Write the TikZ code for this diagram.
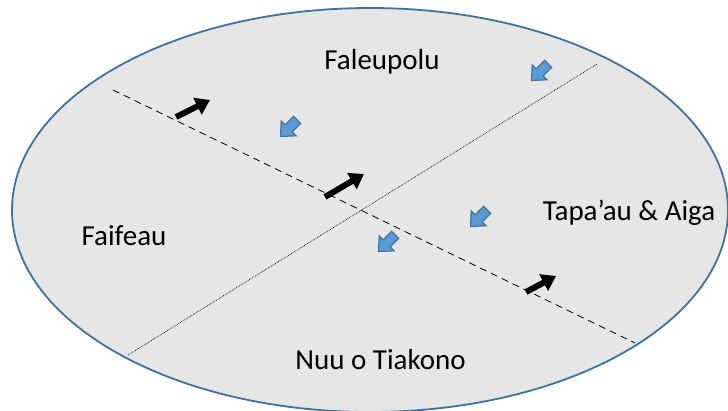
\documentclass[tikz,border=0pt]{standalone}
\usepackage{fontspec}
\setmainfont{Carlito}
\usetikzlibrary{arrows.meta}
\definecolor{rim}{HTML}{41719C}
\definecolor{disk}{HTML}{E6E6E6}
\definecolor{bluefill}{HTML}{5B9BD5}
\definecolor{blueedge}{HTML}{41719C}
\tikzset{
  region/.style={font=\fontsize{29}{34}\selectfont, inner sep=0pt},
  blackarrow/.style={line width=6pt, -{Triangle[length=14pt,width=18pt]}},
  blueshape/.style={draw=blueedge, fill=bluefill, line width=1.2pt, line join=miter},
  dashline/.style={dash pattern=on 7pt off 5pt, line width=0.8pt},
  dotline/.style={dash pattern=on 0.7pt off 1pt, line width=0.7pt},
  pics/bluearrow/.style={code={
    \begin{scope}[x={(-0.7071pt,-0.7071pt)}, y={(-0.7071pt,0.7071pt)}]
      \path[blueshape] (-11.5,-5) -- (0.5,-5) -- (0.5,-10.5) -- (12,0) -- (0.5,10.5) -- (0.5,5) -- (-11.5,5) -- cycle;
    \end{scope}
  }},
}
\begin{document}
\begin{tikzpicture}[x=1pt,y=-1pt]
\useasboundingbox (0,0) rectangle (728,410);
\begin{scope}
\clip (0,0) rectangle (728,410);
\draw[rim, fill=disk, line width=1.8pt] (370,210) ellipse [x radius=358, y radius=202];
\end{scope}
% lines
\coordinate (d1) at (113,90);
\coordinate (d2) at (635,343);
\coordinate (t1) at (128,355);
\coordinate (t2) at (597,64);
\draw[dashline] (d1) -- (d2);
\draw[dotline] (t1) -- (t2);
% labels
\node[region] (fal) at (382,62) {Faleupolu};
\node[region] (fai) at (124,236) {Faifeau};
\node[region] (tap) at (629,213) {Tapa’au \& Aiga};
\node[region] (nuu) at (380.5,360) {Nuu o Tiakono};
% black arrows
\coordinate (a1s) at (176,117); \coordinate (a1e) at (210,100);
\coordinate (a2s) at (325,197); \coordinate (a2e) at (364,174);
\coordinate (a3s) at (526,292); \coordinate (a3e) at (556,276);
\draw[blackarrow] (a1s) -- (a1e);
\draw[blackarrow] (a2s) -- (a2e);
\draw[blackarrow] (a3s) -- (a3e);
% blue arrows
\pic at (289,128) {bluearrow};
\pic at (540,72) {bluearrow};
\pic at (479,218) {bluearrow};
\pic at (387,243) {bluearrow};
\end{tikzpicture}
\end{document}
